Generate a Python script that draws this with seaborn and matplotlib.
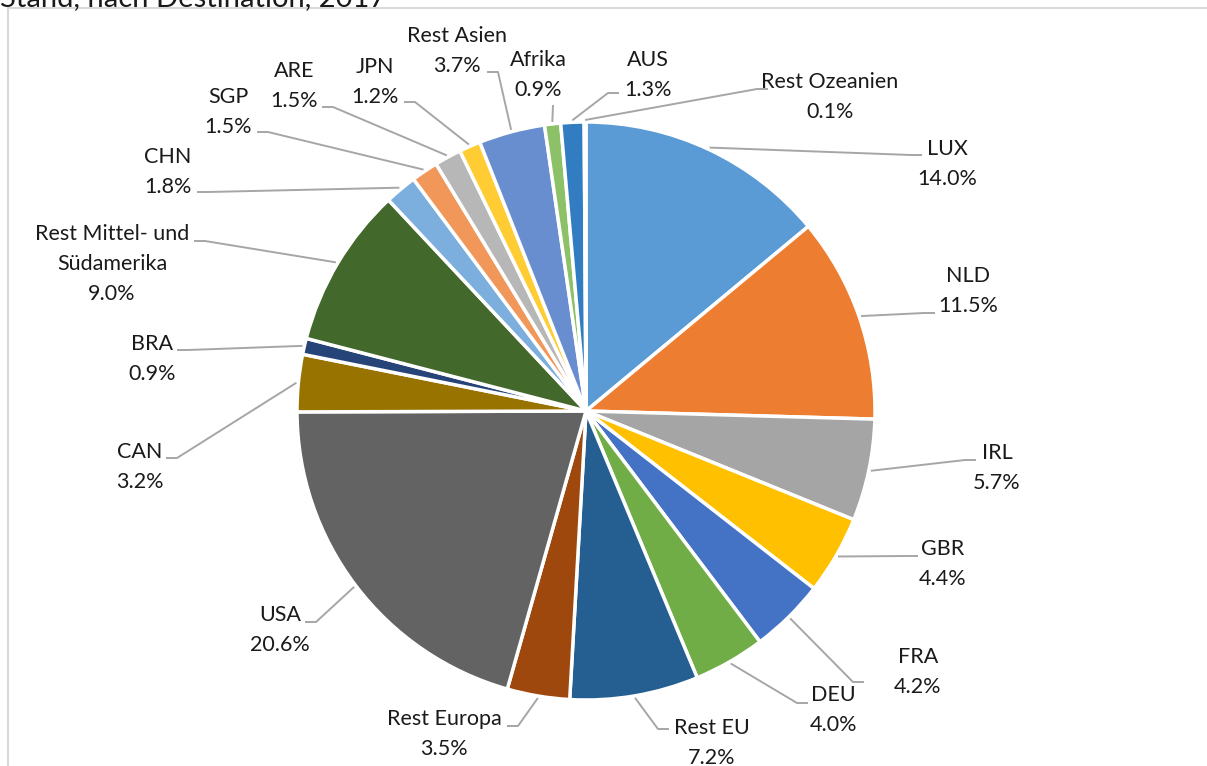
import numpy as np
import matplotlib
matplotlib.use("Agg")
import matplotlib.pyplot as plt
import seaborn as sns

categories = ["LUX", "NLD", "IRL", "GBR", "FRA", "DEU", "Rest EU", "Rest Europa", "USA", "CAN",
              "BRA", "Rest Mittel- und\nSüdamerika", "CHN", "SGP", "ARE", "JPN", "Rest Asien",
              "Afrika", "AUS", "Rest Ozeanien"]
shares = [14.0, 11.5, 5.7, 4.4, 4.2, 4.0, 7.2, 3.5, 20.6, 3.2,
          0.9, 9.0, 1.8, 1.5, 1.5, 1.2, 3.7, 0.9, 1.3, 0.1]
value_labels = ["14.0%", "11.5%", "5.7%", "4.4%", "4.2%", "4.0%", "7.2%", "3.5%", "20.6%", "3.2%",
                "0.9%", "9.0%", "1.8%", "1.5%", "1.5%", "1.2%", "3.7%", "0.9%", "1.3%", "0.1%"]
colors = ["#5B9BD5", "#ED7D31", "#A5A5A5", "#FFC000", "#4472C4", "#70AD47", "#255E91", "#9E480E",
          "#636363", "#997300", "#264478", "#43682B", "#7CAFDD", "#F1975A", "#B7B7B7", "#FFCD33",
          "#698ED0", "#8CC168", "#327DC2", "#D26012"]
title = "Stand, nach Destination, 2017"

# layout (pixel coords, top-left origin): label centre, leader elbow, tick direction
label_pos = [(947, 164), (968, 291), (997, 468), (943, 564), (918, 672), (833, 710), (712, 743),
             (444, 734), (280, 630), (140, 467), (152, 359), (112, 264), (168, 172), (228, 112),
             (294, 86), (375, 82), (457, 51), (538, 75), (648, 75), (830, 97)]
elbow_pos = [(911, 155), (924, 313), (965, 460), (907, 556), (853, 682), (797, 703), (658, 729),
             (518, 726), (316, 622), (177, 458), (188, 350), (205, 241), (208, 192), (268, 132),
             (333, 107), (415, 102), (498, 72), (553, 105), (608, 93), (757, 89)]
tick_dir = [1, 1, 1, 1, 1, 1, 1, -1, -1, -1, -1, -1, -1, -1, -1, -1, -1, 0, 1, 1]

W, H = 1207, 766
sns.set_theme(style="white")
plt.rcParams['font.family'] = ['Lato', 'DejaVu Sans']

fig = plt.figure(figsize=(W / 100, H / 100), dpi=100)
ax = fig.add_axes([0, 0, 1, 1])

cx, cy, r = 586, H - 411, 289
wedges, _ = ax.pie(shares, colors=sns.color_palette(colors), startangle=90, counterclock=False,
                   center=(cx, cy), radius=r, frame=True,
                   wedgeprops=dict(edgecolor="white", linewidth=2.5))
ax.set_xlim(0, W)
ax.set_ylim(0, H)
ax.set_aspect("equal")
ax.axis("off")

for w, cat, vl, (tx, ty), (ex, ey), sd in zip(wedges, categories, value_labels,
                                                label_pos, elbow_pos, tick_dir):
    ang = np.deg2rad((w.theta1 + w.theta2) / 2)
    sx, sy = cx + (r + 2) * np.cos(ang), cy + (r + 2) * np.sin(ang)
    ey2 = H - ey
    ax.plot([sx, ex, ex + sd * 11], [sy, ey2, ey2], color="#A6A6A6", lw=1.4, zorder=1,
            solid_capstyle="butt")
    ax.text(tx, H - ty, f"{cat}\n{vl}", ha="center", va="center", fontsize=15.5,
            color="#1a1a1a", linespacing=1.6)

ax.add_patch(plt.Rectangle((8, -5), W, H - 8 + 5, fill=False, edgecolor="#D9D9D9", lw=1.5))
ax.text(0, H - 6, title, ha="left", va="baseline", fontsize=21, color="#1a1a1a")

fig.savefig("out.png", dpi=100)
